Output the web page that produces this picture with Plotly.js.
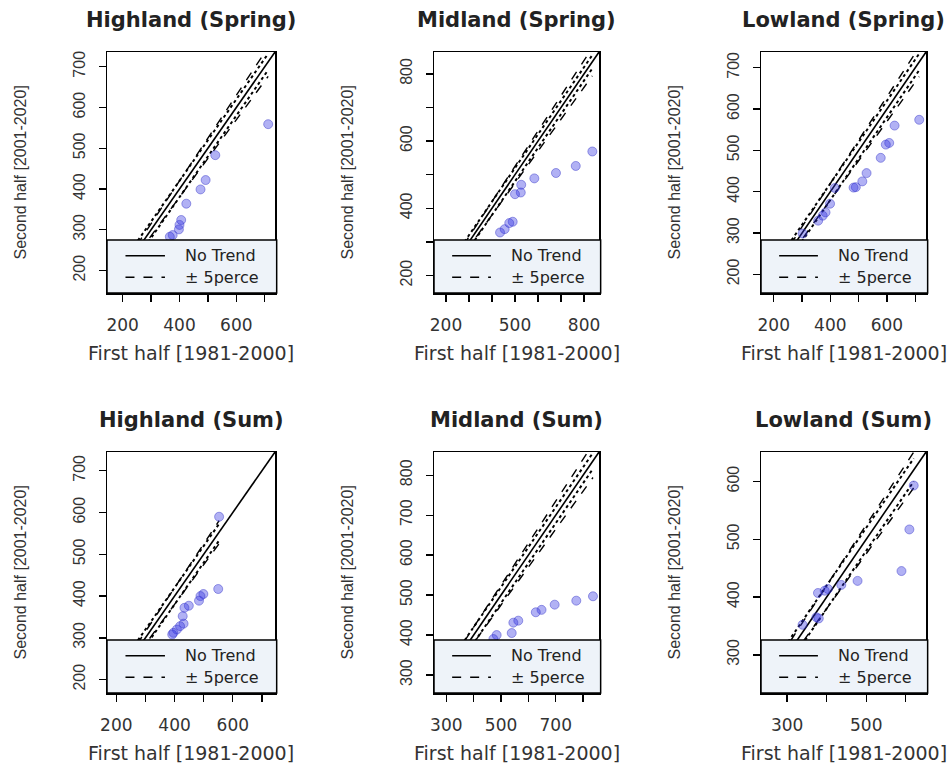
<!DOCTYPE html>
<html><head><meta charset="utf-8">
<script src="https://cdn.plot.ly/plotly-3.0.1.min.js"></script>
<style>html,body{margin:0;padding:0;background:#fff}</style>
</head><body>
<div id="chart" style="width:952px;height:764px"></div>
<script>
// ---- data ----
const panelTitles = ["Highland (Spring)", "Midland (Spring)", "Lowland (Spring)",
                     "Highland (Sum)", "Midland (Sum)", "Lowland (Sum)"];

const highlandSpringX = [712, 526, 492, 474, 424, 406, 400, 398, 376, 366];
const highlandSpringY = [559, 483, 422, 399, 364, 324, 312, 301, 287, 283];

const midlandSpringX = [836, 764, 678, 584, 527, 525, 500, 490, 475, 455, 435];
const midlandSpringY = [569, 526, 505, 489, 470, 447, 442, 360, 356, 338, 328];

const lowlandSpringX = [714, 627, 608, 596, 578, 528, 513, 490, 482, 416, 399, 383, 373, 357, 302];
const lowlandSpringY = [574, 560, 518, 514, 482, 445, 425, 411, 410, 409, 371, 350, 342, 330, 299];

const highlandSumX = [553, 550, 499, 489, 484, 449, 434, 428, 431, 419, 408, 396, 392];
const highlandSumY = [590, 417, 405, 400, 389, 377, 372, 352, 334, 328, 320, 312, 308];

const midlandSumX = [836, 775, 696, 648, 627, 563, 545, 539, 484, 472];
const midlandSumY = [497, 486, 476, 463, 457, 436, 431, 405, 400, 390];

const lowlandSumX = [620, 609, 589, 478, 437, 403, 395, 378, 380, 374, 339];
const lowlandSumY = [593, 517, 445, 428, 421, 414, 411, 407, 363, 365, 352];

const axisRanges = [[145, 736], [148, 865], [155, 738], [168, 745], [255, 858], [234, 651]];

const xTickVals = [[200,300,400,500,600,700], [200,300,400,500,600,700,800], [200,300,400,500,600,700],
                   [200,300,400,500,600,700], [300,400,500,600,700,800], [300,400,500,600]];
const xTickText = [["200","","400","","600",""], ["200","","","500","","","800"], ["200","","400","","600",""],
                   ["200","","400","","600",""], ["300","","500","","700",""], ["300","","500",""]];
const yTickVals = [[200,300,400,500,600,700], [200,300,400,500,600,700,800], [200,300,400,500,600,700],
                   [200,300,400,500,600,700], [300,400,500,600,700,800], [300,400,500,600]];
const yTickText = [["200","300","400","500","600","700"], ["200","","400","","600","","800"], ["200","300","400","500","600","700"],
                   ["200","300","400","500","600","700"], ["300","400","500","600","700","800"], ["300","400","500","600"]];

const xLabel = "First half [1981-2000]";
const yLabel = "Second half [2001-2020]";
const legendLabels = ["No Trend", "± 5perce"];
const bandPercent = 0.05;
const bandOffset = 20;

// ---- layout helpers ----
const seriesX = [highlandSpringX, midlandSpringX, lowlandSpringX, highlandSumX, midlandSumX, lowlandSumX];
const seriesY = [highlandSpringY, midlandSpringY, lowlandSpringY, highlandSumY, midlandSumY, lowlandSumY];

const W = 952, H = 764;
const colPx = [[107, 275], [434, 599], [761, 926]];
const rowPx = [[52, 293], [452, 693]];
const legendTop = 0.22;

const fontWide = "DejaVu Sans, Verdana, sans-serif";
const fontNarrow = "Liberation Sans, Arial, sans-serif";

const data = [];
const layout = {
  width: W, height: H,
  margin: {l: 0, r: 0, t: 0, b: 0},
  paper_bgcolor: "#fff", plot_bgcolor: "#fff",
  showlegend: false,
  shapes: [], annotations: []
};

for (let i = 0; i < 6; i++) {
  const col = i % 3, row = Math.floor(i / 3);
  const xs = i === 0 ? "x" : "x" + (i + 1);
  const ys = i === 0 ? "y" : "y" + (i + 1);
  const xk = i === 0 ? "xaxis" : "xaxis" + (i + 1);
  const yk = i === 0 ? "yaxis" : "yaxis" + (i + 1);
  const r = axisRanges[i];
  const X = seriesX[i], Y = seriesY[i];
  const lo = r[0], hi = Math.max(...X);

  // reference lines
  data.push({type: "scatter", mode: "lines", x: [r[0], r[1]], y: [r[0], r[1]], xaxis: xs, yaxis: ys,
             line: {color: "#000", width: 1.6}, hoverinfo: "skip"});
  [1 + bandPercent, 1 - bandPercent].forEach(f => {
    data.push({type: "scatter", mode: "lines", x: [lo, hi], y: [lo * f, hi * f], xaxis: xs, yaxis: ys,
               line: {color: "#000", width: 1.4, dash: "dash"}, hoverinfo: "skip"});
  });
  [bandOffset, -bandOffset].forEach(d => {
    data.push({type: "scatter", mode: "lines", x: [lo, hi], y: [lo + d, hi + d], xaxis: xs, yaxis: ys,
               line: {color: "#000", width: 2, dash: "dot"}, hoverinfo: "skip"});
  });
  // points
  data.push({type: "scatter", mode: "markers", x: X, y: Y, xaxis: xs, yaxis: ys,
             marker: {size: 9, color: "rgba(50,50,225,0.38)", line: {color: "rgba(50,50,200,0.45)", width: 1}}});

  const axCommon = {
    showgrid: false, zeroline: false, showline: true, mirror: true,
    linecolor: "#000", linewidth: 1.5, ticks: "outside", ticklen: 7, tickwidth: 1.3, tickcolor: "#000",
    range: r, fixedrange: true
  };
  layout[xk] = Object.assign({}, axCommon, {
    domain: [colPx[col][0] / W, colPx[col][1] / W], anchor: ys,
    tickmode: "array", tickvals: xTickVals[i], ticktext: xTickText[i],
    tickfont: {family: fontWide, size: 17, color: "#333"}, ticklabelstandoff: 9
  });
  layout[yk] = Object.assign({}, axCommon, {
    domain: [1 - rowPx[row][1] / H, 1 - rowPx[row][0] / H], anchor: xs,
    tickmode: "array", tickvals: yTickVals[i], ticktext: yTickText[i], tickangle: -90,
    tickfont: {family: fontNarrow, size: 16, color: "#333"}, ticklabelstandoff: 7
  });

  const xd = xs + " domain", yd = ys + " domain";
  // legend box
  layout.shapes.push({type: "rect", xref: xd, yref: yd, x0: 0, x1: 1.01, y0: 0, y1: legendTop,
                      fillcolor: "#EEF3F9", line: {color: "#000", width: 1.5}, layer: "above"});
  layout.shapes.push({type: "line", xref: xd, yref: yd, x0: 0.11, x1: 0.345, y0: 0.155, y1: 0.155,
                      line: {color: "#000", width: 1.5}, layer: "above"});
  layout.shapes.push({type: "line", xref: xd, yref: yd, x0: 0.11, x1: 0.345, y0: 0.065, y1: 0.065,
                      line: {color: "#000", width: 1.5, dash: "dash"}, layer: "above"});
  layout.annotations.push({xref: xd, yref: yd, x: 0.46, y: 0.155, xanchor: "left", yanchor: "middle",
                           text: legendLabels[0], showarrow: false, borderpad: 0,
                           font: {family: fontWide, size: 16, color: "#222"}});
  layout.annotations.push({xref: xd, yref: yd, x: 0.46, y: 0.065, xanchor: "left", yanchor: "middle",
                           text: legendLabels[1], showarrow: false, borderpad: 0,
                           font: {family: fontWide, size: 16, color: "#222"}});
  // titles
  layout.annotations.push({xref: xd, yref: yd, x: 0.5, y: 1, yshift: 32, xanchor: "center", yanchor: "middle",
                           text: "<b>" + panelTitles[i] + "</b>", showarrow: false,
                           font: {family: fontWide, size: 21, color: "#222"}});
  layout.annotations.push({xref: xd, yref: yd, x: 0.5, y: 0, yshift: -60, xanchor: "center", yanchor: "middle",
                           text: xLabel, showarrow: false, font: {family: fontWide, size: 19, color: "#333"}});
  layout.annotations.push({xref: xd, yref: yd, x: 0, y: 0.5, xshift: -87, xanchor: "center", yanchor: "middle",
                           textangle: -90, text: yLabel, showarrow: false,
                           font: {family: fontNarrow, size: 16, color: "#333"}});
}

Plotly.newPlot("chart", data, layout, {displayModeBar: false, staticPlot: true});
</script>
</body></html>
